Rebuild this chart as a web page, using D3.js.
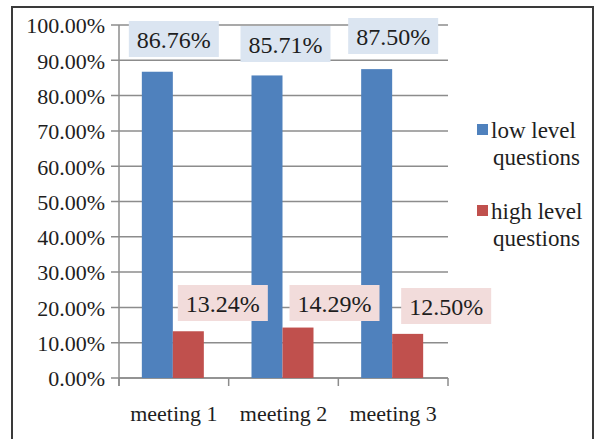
<!DOCTYPE html>
<html><head><meta charset="utf-8">
<script src="https://cdn.jsdelivr.net/npm/d3@7"></script>
<style>
body{margin:0;background:#fff;}
svg{display:block;}
</style></head>
<body>
<svg id="c" width="596" height="439"></svg>
<script>
const categories = ["meeting 1","meeting 2","meeting 3"];
const seriesNames = ["low level questions","high level questions"];
const lowLevel = [0.8676, 0.8571, 0.8750];
const highLevel = [0.1324, 0.1429, 0.1250];
const lowLabels = ["86.76%","85.71%","87.50%"];
const highLabels = ["13.24%","14.29%","12.50%"];
const yTicks = [0,0.1,0.2,0.3,0.4,0.5,0.6,0.7,0.8,0.9,1.0];
const colors = ["#4f81bd","#c0504d"];
const labelBg = ["#dbe5f1","#f2dcdb"];

const FONT = '"Liberation Serif"';
const svg = d3.select("#c");
function T(sel){ return sel.style("font-family",FONT).attr("fill","#1e1e1e"); }

// outer frame
svg.append("rect").attr("x",12).attr("y",7).attr("width",581).attr("height",440)
  .attr("fill","none").attr("stroke","#3a3a3a").attr("stroke-width",2);

const L=119,R=448,Tp=25,B=378;
const x = d3.scaleBand().domain(categories).range([L,R]).padding(0);
const x1 = d3.scaleBand().domain(seriesNames).range([-32,30]).padding(0);
const y = d3.scaleLinear().domain([0,1]).range([B,Tp]);

// gridlines
svg.append("g").selectAll("line").data(yTicks).join("line")
  .attr("x1",L-8).attr("x2",R).attr("y1",d=>y(d)).attr("y2",d=>y(d))
  .attr("stroke","#8c8c8c").attr("stroke-width",1.5);

// y tick labels
T(svg.append("g").selectAll("text").data(yTicks).join("text")
  .attr("x",105).attr("y",d=>y(d)).attr("dy","0.38em").attr("text-anchor","end")
  .attr("font-size",22).text(d=>d3.format(".2%")(d)));

// axes lines
svg.append("line").attr("x1",L).attr("x2",L).attr("y1",Tp).attr("y2",B+8).attr("stroke","#8c8c8c").attr("stroke-width",1.5);
svg.append("line").attr("x1",L).attr("x2",R).attr("y1",B).attr("y2",B).attr("stroke","#8c8c8c").attr("stroke-width",1.5);
const xt = categories.map(c=>x(c)).concat([R]);
svg.append("g").selectAll("line").data(xt).join("line")
  .attr("x1",d=>d).attr("x2",d=>d).attr("y1",B).attr("y2",B+8)
  .attr("stroke","#8c8c8c").attr("stroke-width",1.5);

// bars
const series = [lowLevel, highLevel];
series.forEach((vals,si)=>{
  svg.append("g").selectAll("rect").data(vals).join("rect")
    .attr("x",(d,i)=>x(categories[i])+x.bandwidth()/2+x1(seriesNames[si]))
    .attr("width",x1.bandwidth())
    .attr("y",d=>y(d)).attr("height",d=>B-y(d))
    .attr("fill",colors[si]);
});

// data labels
function label(cx, cy, txt, bg){
  const w=90,h=36;
  svg.append("rect").attr("x",cx-w/2).attr("y",cy-h/2).attr("width",w).attr("height",h).attr("fill",bg);
  T(svg.append("text").attr("x",cx).attr("y",cy).attr("dy","0.36em").attr("text-anchor","middle")
    .attr("font-size",24).text(txt));
}
const lowOff=[0,2,0], lowY=[39,44,36];
lowLabels.forEach((t,i)=>label(x(categories[i])+x.bandwidth()/2+lowOff[i], lowY[i], t, labelBg[0]));
const highY=[303,303,306];
highLabels.forEach((t,i)=>label(x(categories[i])+x.bandwidth()/2+49+(i==1?2:(i==2?4:0)), highY[i], t, labelBg[1]));

// category labels
T(svg.append("g").selectAll("text").data(categories).join("text")
  .attr("x",d=>x(d)+x.bandwidth()/2).attr("y",421).attr("text-anchor","middle")
  .attr("font-size",22).text(d=>d));

// legend
const leg = [{y:124,lines:["low level","questions"]},{y:205,lines:["high level","questions"]}];
leg.forEach((l,i)=>{
  svg.append("rect").attr("x",477).attr("y",l.y).attr("width",11).attr("height",11).attr("fill",colors[i]);
  T(svg.append("text").attr("x",491).attr("y",l.y+14).attr("font-size",23).text(l.lines[0]));
  T(svg.append("text").attr("x",493).attr("y",l.y+41).attr("font-size",23).text(l.lines[1]));
});
</script>
</body></html>
